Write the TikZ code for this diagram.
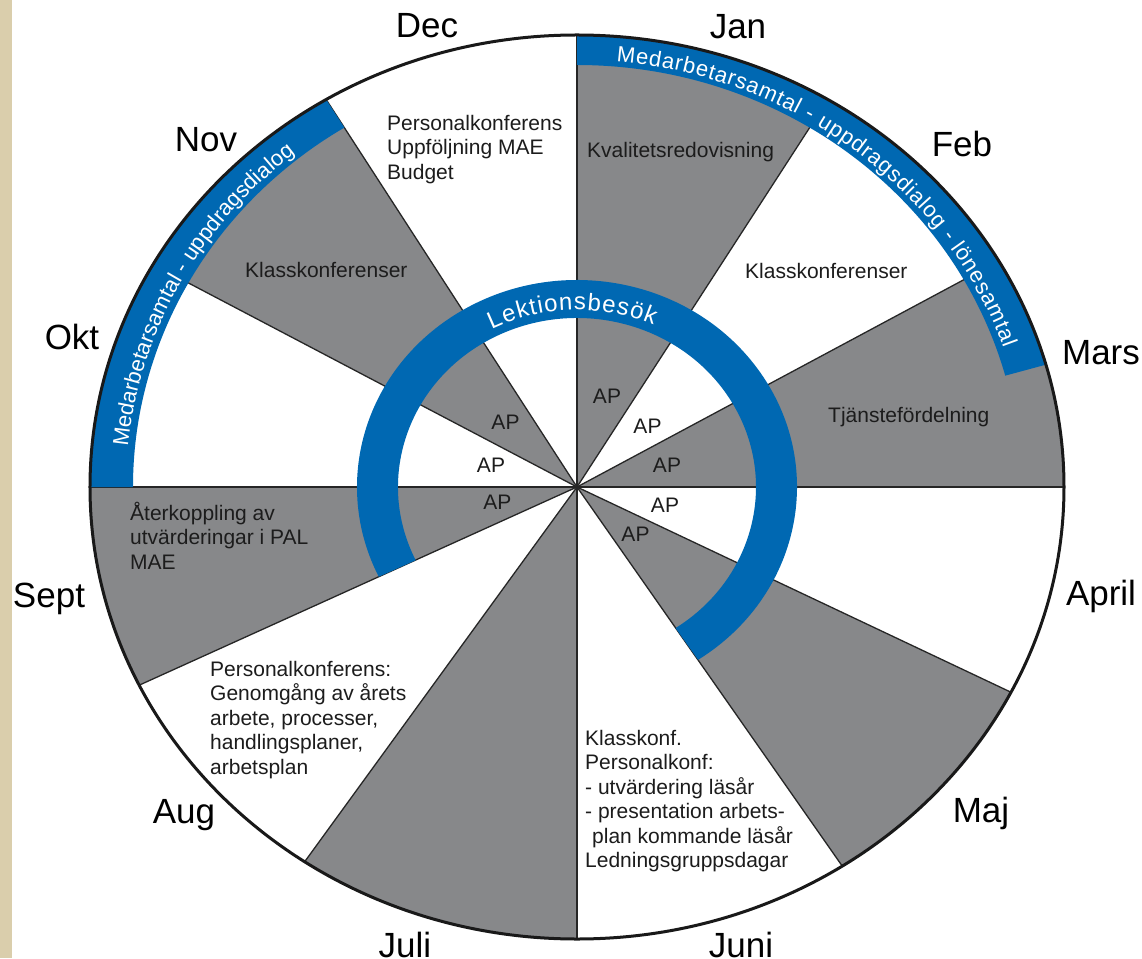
\documentclass[tikz,border=0pt]{standalone}
\usepackage{fontspec}
\setmainfont{Liberation Sans}
\usetikzlibrary{decorations.text}
\definecolor{sectgrey}{RGB}{135,136,138}
\definecolor{bandblue}{RGB}{0,104,178}
\definecolor{strip}{RGB}{218,206,172}
\definecolor{txtdark}{RGB}{28,28,28}
\begin{document}
\begin{tikzpicture}[x=1pt,y=1pt,
  month/.style={font=\fontsize{35}{40}\selectfont, anchor=base, inner sep=0pt, text=black},
  info/.style={font=\fontsize{21}{24.5}\selectfont, anchor=north west, align=left, inner sep=0pt, text=txtdark},
  aplabel/.style={font=\fontsize{21}{24}\selectfont, inner sep=0pt, text=txtdark},
  divider/.style={line width=1.3pt, black!85},
  rim/.style={line width=3pt, black!90},
  sector/.style={fill=sectgrey},
  band/.style={fill=bandblue}]
\useasboundingbox (-577,-471) rectangle (565,487);
\fill[white] (-577,-471) rectangle (565,487);
\fill[strip] (-577,-471) rectangle (-565,487);
\coordinate (O) at (0,0);
% grey sectors
\foreach \a/\b in {59/90, 0/30, -57/-27, -124/-90, 180/206, 121/150.5}
  \path[sector] (O) -- (\a:487pt and 452pt) arc[start angle=\a, end angle=\b, x radius=487pt, y radius=452pt] -- cycle;
% dividers
\foreach \a in {90,59,30,0,-27,-57,-90,-124,-154,180,150.5,121}
  \draw[divider] (O) -- (\a:487pt and 452pt);
% outer blue bands
\path[band] (90:487pt and 452pt) arc[start angle=90, end angle=15.7, x radius=487pt, y radius=452pt]
  -- (15.3:444pt and 422pt) arc[start angle=15.3, end angle=90, x radius=444pt, y radius=422pt] -- cycle;
\path[band] (121:487pt and 452pt) arc[start angle=121, end angle=180, x radius=487pt, y radius=452pt]
  -- (180:444pt and 422pt) arc[start angle=180, end angle=121.6, x radius=444pt, y radius=422pt] -- cycle;
% inner ring
\path[band] (-56.6:220pt and 207pt) arc[start angle=-56.6, end angle=205.7, x radius=220pt, y radius=207pt]
  -- (205.7:179pt and 169pt) arc[start angle=205.7, end angle=-56.6, x radius=179pt, y radius=169pt] -- cycle;
% rim
\draw[rim] (O) ellipse[x radius=487pt, y radius=452pt];
% band texts
\begingroup\fontsize{22}{26}\selectfont
\path[decorate, decoration={text along path, text color=white,
  text={Medarbetarsamtal - uppdragsdialog - lönesamtal},
  text align={fit to path}}]
  (85:451pt and 427pt) arc[start angle=85, end angle=19, x radius=451pt, y radius=427pt];
\path[decorate, decoration={text along path, text color=white,
  text={Medarbetarsamtal - uppdragsdialog},
  text align={fit to path}}]
  (174.6:451pt and 427pt) arc[start angle=174.6, end angle=129, x radius=451pt, y radius=427pt];
\endgroup
\begingroup\fontsize{24}{28}\selectfont
\path[decorate, decoration={text along path, text color=white,
  text={Lektionsbesök},
  text align={fit to path}}]
  (117:188pt and 177pt) arc[start angle=117, end angle=66, x radius=188pt, y radius=177pt];
\endgroup
% months
\node[month] (mdec) at (-150,449) {Dec};
\node[month] (mjan) at (161,448) {Jan};
\node[month] (mfeb) at (385,330) {Feb};
\node[month] (mmar) at (524,122) {Mars};
\node[month] (mapr) at (524,-118) {April};
\node[month] (mmaj) at (404,-335) {Maj};
\node[month] (mjun) at (164,-470) {Juni};
\node[month] (mjul) at (-172,-470) {Juli};
\node[month] (maug) at (-393,-336) {Aug};
\node[month] (msep) at (-528,-120) {Sept};
\node[month] (mokt) at (-505,137) {Okt};
\node[month] (mnov) at (-371,335) {Nov};
% sector texts
\node[info] (tdec) at (-190,377) {\rule{0pt}{20pt}Personalkonferens\\Uppföljning MAE\\Budget};
\node[info] (tjan) at (10,350) {\rule{0pt}{20pt}Kvalitetsredovisning};
\node[info] (tfeb) at (168,229) {\rule{0pt}{20pt}Klasskonferenser};
\node[info] (tmar) at (251,85) {\rule{0pt}{20pt}Tjänstefördelning};
\node[info] (tnov) at (-332,230) {\rule{0pt}{20pt}Klasskonferenser};
\node[info] (tsep) at (-447,-13) {\rule{0pt}{20pt}Återkoppling av\\utvärderingar i PAL\\MAE};
\node[info] (taug) at (-367,-169) {\rule{0pt}{20pt}Personalkonferens:\\Genomgång av årets\\arbete, processer,\\handlingsplaner,\\arbetsplan};
\node[info] (tjun) at (8,-238) {\rule{0pt}{20pt}Klasskonf.\\Personalkonf:\\- utvärdering läsår\\- presentation arbets-\\\hspace*{7pt}plan kommande läsår\\Ledningsgruppsdagar};
% AP labels
\node[aplabel] (ap1) at (30,91) {AP};
\node[aplabel] (ap2) at (70.5,60.5) {AP};
\node[aplabel] (ap3) at (90,21.5) {AP};
\node[aplabel] (ap4) at (88,-18.5) {AP};
\node[aplabel] (ap5) at (58.5,-47.5) {AP};
\node[aplabel] (ap6) at (-71.5,64.5) {AP};
\node[aplabel] (ap7) at (-86,21.5) {AP};
\node[aplabel] (ap8) at (-79.5,-15.5) {AP};
\end{tikzpicture}
\end{document}
